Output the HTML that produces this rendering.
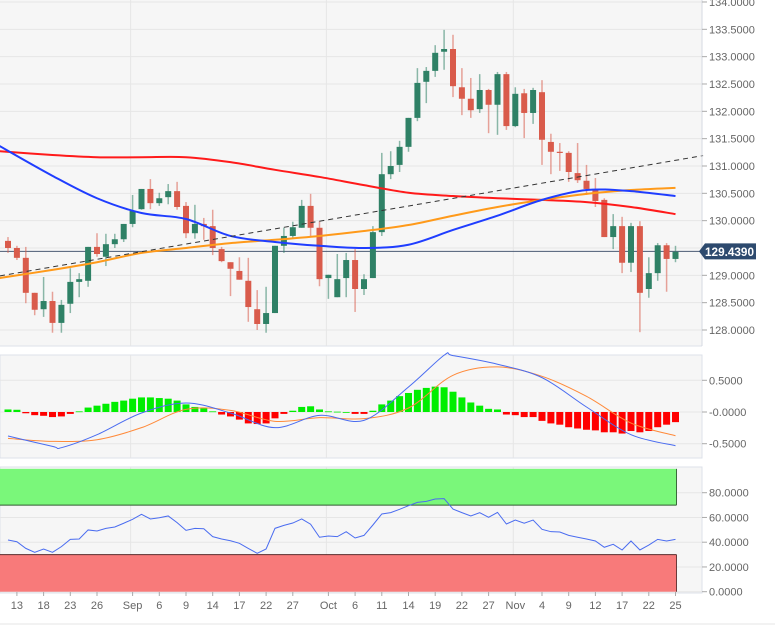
<!DOCTYPE html>
<html><head><meta charset="utf-8">
<style>
html,body{margin:0;padding:0;background:#fff;}
svg{display:block;font-family:"Liberation Sans",sans-serif;}
</style></head>
<body>
<svg id="chart" width="775" height="625" viewBox="0 0 775 625"></svg>
<script>
// ---- data ----
const openP=[129.63,129.50,129.32,128.68,128.38,128.53,128.13,128.48,128.88,128.90,129.52,129.34,129.57,129.66,129.94,130.21,130.58,130.32,130.43,130.54,130.27,129.77,129.94,129.90,129.48,129.24,129.08,128.90,128.38,128.11,128.31,129.54,129.72,129.87,130.27,129.87,128.95,128.60,128.95,129.28,128.75,128.95,129.79,130.85,131.02,131.35,131.88,132.54,132.74,133.09,133.14,132.44,132.23,132.04,132.39,132.12,132.68,131.73,132.33,131.97,132.35,131.44,131.26,131.24,130.87,130.73,130.56,130.38,129.70,129.90,129.23,129.90,128.75,129.04,129.55,129.30];
const highP=[129.70,129.54,129.52,128.68,128.97,128.70,128.55,129.13,129.04,129.52,129.77,129.76,129.76,129.94,130.47,130.58,130.76,130.51,130.67,130.71,130.34,130.29,130.05,130.20,129.52,129.24,129.33,129.32,128.73,128.79,129.54,129.87,129.98,130.38,130.49,129.99,129.01,129.39,129.41,129.48,129.02,129.90,131.24,131.27,131.46,131.88,132.79,132.81,133.21,133.49,133.40,132.79,132.61,132.68,132.41,132.72,132.72,132.44,132.41,132.43,132.57,131.59,131.42,131.27,131.42,131.02,130.78,130.41,130.12,130.07,129.96,129.99,129.33,129.59,129.59,129.54];
const lowP=[129.41,129.28,128.49,128.27,128.24,127.95,127.95,128.31,128.60,128.79,129.34,129.17,129.50,129.61,129.88,130.20,130.21,130.27,130.30,130.20,129.68,129.67,129.65,129.37,129.24,128.62,128.92,128.15,128.00,127.95,128.31,129.41,129.68,129.87,129.70,128.80,128.57,128.60,128.60,128.33,128.64,128.95,129.72,130.76,130.89,131.26,131.82,132.15,132.63,132.76,132.26,131.93,131.88,131.97,131.60,131.57,131.66,131.71,131.51,131.77,131.02,130.85,130.91,130.71,130.69,130.47,130.25,129.70,129.48,129.04,129.06,127.96,128.59,128.90,128.70,129.24];
const closeP=[129.50,129.32,128.68,128.37,128.53,128.13,128.46,128.88,128.93,129.52,129.39,129.57,129.66,129.94,130.18,130.58,130.32,130.41,130.54,130.25,129.77,129.94,129.90,129.50,129.26,129.12,128.92,128.42,128.11,128.31,129.54,129.72,129.88,130.27,129.87,128.93,129.01,128.93,129.28,128.75,128.93,129.79,130.85,131.00,131.35,131.88,132.52,132.74,133.07,133.14,132.46,132.23,132.02,132.39,132.12,132.68,131.73,132.32,131.97,132.39,131.48,131.26,131.24,130.89,130.74,130.58,130.36,129.70,129.90,129.23,129.90,128.68,129.04,129.55,129.30,129.43];
const lastPrice=129.439;
const maIdx=[-1,5,10,15,20,25,30,35,40,45,50,55,60,65,70,75];
const maRed=[131.27,131.20,131.16,131.16,131.16,131.07,130.93,130.80,130.65,130.51,130.45,130.41,130.38,130.34,130.25,130.12];
const maBlue=[131.37,130.82,130.41,130.14,130.03,129.72,129.61,129.54,129.50,129.56,129.83,130.09,130.38,130.56,130.54,130.45];
const maOrange=[128.95,129.10,129.24,129.41,129.50,129.59,129.65,129.72,129.81,129.92,130.09,130.25,130.38,130.49,130.56,130.60];
const trendIdx=[-0.9,78.1];
const trendVal=[128.99,131.19];
const priceTicks=[128,128.5,129,129.5,130,130.5,131,131.5,132,132.5,133,133.5,134];
const macdHist=[0.04,0.035,-0.02,-0.05,-0.06,-0.08,-0.07,-0.03,0.01,0.07,0.10,0.13,0.16,0.18,0.21,0.23,0.23,0.22,0.21,0.18,0.12,0.08,0.06,0.01,-0.04,-0.07,-0.12,-0.18,-0.19,-0.18,-0.10,-0.03,0.02,0.08,0.09,0.04,0.01,0.005,0,-0.03,-0.03,0.02,0.12,0.18,0.25,0.30,0.35,0.38,0.40,0.39,0.32,0.23,0.15,0.10,0.05,0.04,-0.04,-0.05,-0.08,-0.08,-0.14,-0.18,-0.20,-0.24,-0.26,-0.28,-0.29,-0.32,-0.32,-0.34,-0.30,-0.32,-0.30,-0.24,-0.20,-0.16];
const macdIdx=[0,5,6,10,15,20,25,30,35,40,45,49,50,55,60,65,70,75];
const macdLine=[-0.379,-0.542,-0.563,-0.358,-0.016,0.142,-0.016,-0.247,-0.053,-0.132,0.395,0.895,0.889,0.753,0.542,0.079,-0.358,-0.532];
const sigIdx=[0,5,10,15,20,25,30,35,40,45,50,55,60,65,70,75];
const sigLine=[-0.416,-0.463,-0.437,-0.247,0.042,0.026,-0.147,-0.089,-0.105,0.063,0.579,0.711,0.563,0.247,-0.174,-0.374];
const macdTicks=[0.5,0,-0.5];
const macdTickLabels=["0.5000","-0.0000","-0.5000"];
const rsi=[41.8,40.4,35.0,31.8,34.5,31.8,36.4,42.3,42.6,49.9,49.1,51.2,52.3,55.3,58.5,62.5,58.8,59.8,61.2,55.8,49.6,51.2,50.9,44.5,42.6,41.2,39.1,35.0,31.0,34.5,51.2,53.6,55.5,58.8,54.5,44.0,45.0,44.5,48.5,43.4,45.5,53.9,62.8,63.9,66.6,69.5,72.2,73.0,74.9,75.2,66.8,63.9,61.2,63.9,60.1,64.1,54.7,57.9,55.3,57.9,50.4,48.5,48.2,45.5,44.0,42.6,41.0,35.9,38.3,33.7,41.0,33.7,37.7,42.3,41.0,42.3];
const rsiTicks=[80,60,40,20,0];
const rsiTickLabels=["80.0000","60.0000","40.0000","20.0000","0.0000"];
const dateLabels=["13","18","23","26","Sep","6","9","14","17","22","27","Oct","6","11","14","19","22","27","Nov","4","9","12","17","22","25"];
const dateIdx=[1,4,7,10,14,17,20,23,26,29,32,36,39,42,45,48,51,54,57,60,63,66,69,72,75];
const monthIdx=[14,36,57];

// ---- scales ----
const AX=702;
const xOf=i=>8+8.9*i;
const yP=p=>330-(p-128)*54.67;
const yM=v=>412-v*63.4;
const yR=v=>591.7-v*1.2375;
const svg=document.getElementById('chart');
const NS='http://www.w3.org/2000/svg';
function mk(tag,attrs,parent){const e=document.createElementNS(NS,tag);for(const k in attrs)e.setAttribute(k,attrs[k]);(parent||svg).appendChild(e);return e;}

const bgMain=mk('rect',{x:0,y:0,width:AX,height:346,fill:'#f6f6f6'});


const bgMacd=mk('rect',{x:0,y:355,width:AX,height:103,fill:'#f6f6f6',stroke:'#dde1ea'});


const bgRsi=mk('rect',{x:0,y:467,width:AX,height:126,fill:'#f6f6f6',stroke:'#dde1ea'});


mk('line',{x1:0,y1:346,x2:AX,y2:346,stroke:'#dde1ea'});
mk('line',{x1:0,y1:624,x2:775,y2:624,stroke:'#e4e4e4'});

priceTicks.forEach(p=>{mk('line',{x1:0,y1:yP(p),x2:AX,y2:yP(p),stroke:'#e6e6e6'});});
macdTicks.forEach(v=>{mk('line',{x1:0,y1:yM(v),x2:AX,y2:yM(v),stroke:'#e6e6e6'});});
rsiTicks.forEach(v=>{mk('line',{x1:0,y1:yR(v),x2:AX,y2:yR(v),stroke:'#e6e6e6'});});
monthIdx.forEach(i=>{
  [[0,346],[355,458],[467,592]].forEach(r=>mk('line',{x1:xOf(i)-2,y1:r[0],x2:xOf(i)-2,y2:r[1],stroke:'#e6e6e6'}));
});

function curve(idx,vals,yf,color,w,name){
  const pts=idx.map((i,k)=>[xOf(i),yf(vals[k])]);
  let d='M'+pts[0][0]+','+pts[0][1];
  for(let k=0;k<pts.length-1;k++){
    const p0=pts[Math.max(0,k-1)],p1=pts[k],p2=pts[k+1],p3=pts[Math.min(pts.length-1,k+2)];
    const c1=[p1[0]+(p2[0]-p0[0])/6,p1[1]+(p2[1]-p0[1])/6];
    const c2=[p2[0]-(p3[0]-p1[0])/6,p2[1]-(p3[1]-p1[1])/6];
    d+=' C'+c1+' '+c2+' '+p2;
  }
  const e=mk('path',{d:d,fill:'none',stroke:color,'stroke-width':w});
  
  
  return e;
}
const pl=mk('line',{x1:0,y1:yP(lastPrice),x2:AX,y2:yP(lastPrice),stroke:'#4a5a74','stroke-width':1});



for(let i=0;i<openP.length;i++){
  const up=closeP[i]>=openP[i];
  const col=up?'#2f8166':'#d95b4b';
  const x=xOf(i);
  const g=mk('g',{});
  
  
  mk('line',{x1:x,y1:yP(highP[i]),x2:x,y2:yP(lowP[i]),stroke:col,'stroke-opacity':0.55,'stroke-width':1.5},g);
  const top=yP(Math.max(openP[i],closeP[i])),bot=yP(Math.min(openP[i],closeP[i]));
  mk('rect',{x:x-3,y:top,width:6,height:Math.max(1.2,bot-top),fill:col},g);
}
curve(maIdx,maRed,yP,'#ff1a1a',2,'ma-200-line');
curve(maIdx,maOrange,yP,'#ff9a1a',2,'ma-100-line');
curve(maIdx,maBlue,yP,'#1f3dff',2,'ma-50-line');
const tl=mk('line',{x1:xOf(trendIdx[0]),y1:yP(trendVal[0]),x2:xOf(trendIdx[1]),y2:yP(trendVal[1]),stroke:'#333','stroke-width':1,'stroke-dasharray':'5,4'});



for(let i=0;i<macdHist.length;i++){
  const v=macdHist[i];
  const b=mk('rect',{x:xOf(i)-3.5,y:Math.min(yM(v),yM(0)),width:7,height:Math.max(0.8,Math.abs(yM(v)-yM(0))),fill:v>=0?'#00ee00':'#ff0000'});
  
  
}
curve(sigIdx,sigLine,yM,'#ff8a3a',1,'macd-signal-line');
curve(macdIdx,macdLine,yM,'#4a6cf0',1,'macd-line');

const gb=mk('rect',{x:0,y:yR(99.3),width:xOf(75)+1,height:yR(70)-yR(99.3),fill:'#7af77a'});


mk('line',{x1:0,y1:yR(70),x2:xOf(75)+1,y2:yR(70),stroke:'#2f5a2f'});
mk('line',{x1:xOf(75)+1,y1:yR(99.3),x2:xOf(75)+1,y2:yR(70),stroke:'#3a6a3a'});
const rb=mk('rect',{x:0,y:yR(30),width:xOf(75)+1,height:yR(0)-yR(30),fill:'#f87a7a'});


mk('line',{x1:0,y1:yR(30),x2:xOf(75)+1,y2:yR(30),stroke:'#5a2a2a'});
mk('line',{x1:xOf(75)+1,y1:yR(30),x2:xOf(75)+1,y2:yR(0),stroke:'#6a3a3a'});
const rp=mk('polyline',{points:rsi.map((v,i)=>xOf(i)+','+yR(v)).join(' '),fill:'none',stroke:'#4a6cf0','stroke-width':1});



mk('line',{x1:AX,y1:0,x2:AX,y2:346,stroke:'#d5d9e2'});
function axisLabels(ticks,labels,yf,name){
  ticks.forEach((t,k)=>{
    mk('line',{x1:AX,y1:yf(t),x2:AX+5,y2:yf(t),stroke:'#aaa'});
    const tx=mk('text',{x:AX+7,y:yf(t)+4,'font-size':11,fill:'#666'});
    tx.textContent=labels[k];
    
    
  });
}
axisLabels(priceTicks,priceTicks.map(p=>p.toFixed(4)),yP,'price-axis-label');
axisLabels(macdTicks,macdTickLabels,yM,'macd-axis-label');
axisLabels(rsiTicks,rsiTickLabels,yR,'rsi-axis-label');

const ly=yP(lastPrice);
const lg=mk('g',{});


mk('path',{d:`M${AX-3},${ly} L${AX+3},${ly-8} L756,${ly-8} L756,${ly+8} L${AX+3},${ly+8} Z`,fill:'#2d4a6e'},lg);
const lt=mk('text',{x:705,y:ly+4.5,'font-size':11.5,'font-weight':'bold',fill:'#fff','textLength':49,'lengthAdjust':'spacingAndGlyphs'},lg);
lt.textContent=lastPrice.toFixed(4);

dateIdx.forEach((i,k)=>{
  mk('line',{x1:xOf(i),y1:592,x2:xOf(i),y2:596,stroke:'#aaa'});
  const t=mk('text',{x:xOf(i),y:609,'font-size':11,fill:'#666','text-anchor':'middle'});
  t.textContent=dateLabels[k];
  
  
});
</script>
</body></html>
